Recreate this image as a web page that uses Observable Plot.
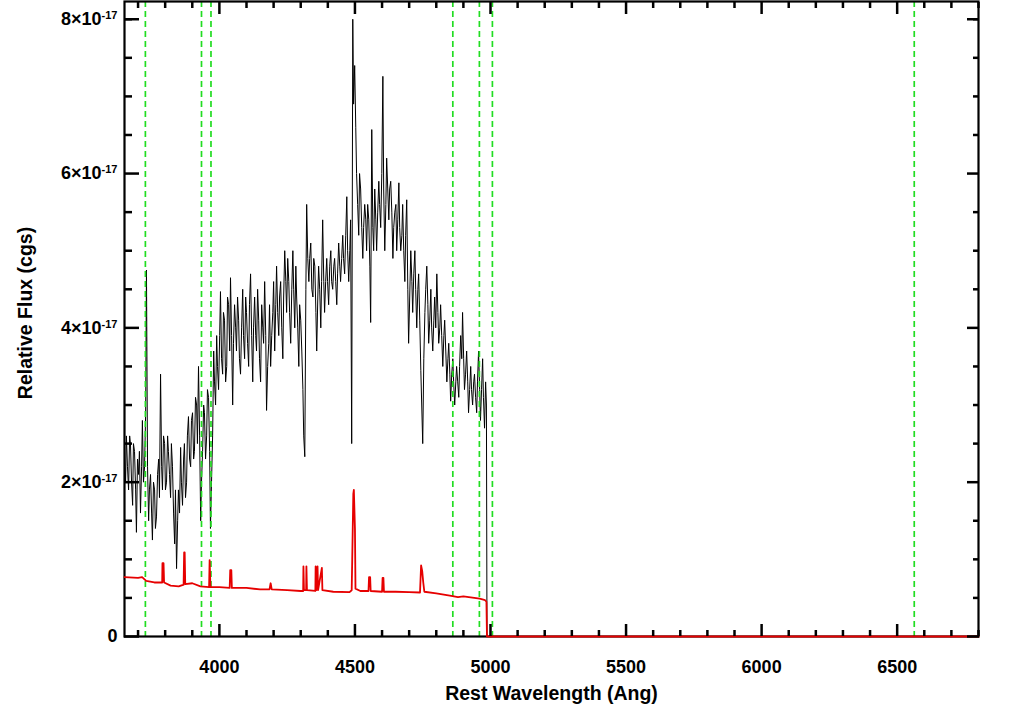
<!DOCTYPE html>
<html>
<head>
<meta charset="utf-8">
<script src="https://cdn.jsdelivr.net/npm/d3@7"></script>
<script src="https://cdn.jsdelivr.net/npm/@observablehq/plot@0.6"></script>
<style>
  html, body { margin: 0; padding: 0; background: #fff; }
  #chart svg { display: block; }
</style>
</head>
<body>
<div id="chart"></div>
<script>
// ---------- DATA (wavelength in Angstrom, flux in units of 1e-17 cgs) ----------
const spectrumPoints = [
[3650,2.3],[3654,2.0],[3657,2.6],[3661,2.2],[3665,1.9],[3669,2.6],[3672,2.5],[3676,2.0],[3680,1.7],[3683,2.5],
[3687,2.4],[3691,1.9],[3694,1.35],[3698,2.3],[3702,2.1],[3705,2.4],[3709,1.6],[3713,2.2],[3716,2.8],[3720,2.0],
[3724,2.2],[3728,2.9],[3731,4.75],[3735,2.2],[3739,1.5],[3742,1.9],[3746,2.1],[3750,1.6],[3753,1.25],[3757,2.0],
[3761,1.9],[3764,1.4],[3768,1.55],[3772,2.1],[3776,2.3],[3779,1.8],[3783,3.4],[3787,2.2],[3790,1.9],[3794,2.6],
[3798,2.5],[3801,1.9],[3805,2.0],[3809,2.6],[3812,2.4],[3816,2.1],[3820,1.8],[3823,2.5],[3827,2.2],[3831,1.6],
[3835,1.2],[3838,1.9],[3842,0.88],[3846,1.5],[3849,1.9],[3853,1.6],[3857,2.45],[3860,2.0],[3864,1.7],[3868,2.3],
[3871,2.5],[3875,1.8],[3879,2.0],[3882,2.6],[3886,2.85],[3890,2.3],[3894,2.2],[3897,2.8],[3901,2.9],[3905,2.3],
[3908,2.4],[3912,3.1],[3916,3.0],[3919,2.5],[3923,3.5],[3927,2.6],[3931,1.5],[3934,2.0],[3938,2.4],[3942,3.0],
[3945,2.9],[3949,2.3],[3953,2.6],[3956,3.2],[3960,3.1],[3964,2.4],[3967,1.4],[3971,2.0],[3975,2.6],[3979,3.7],
[3982,3.3],[3986,3.0],[3990,3.9],[3993,3.5],[3997,3.2],[4001,3.9],[4004,4.47],[4008,3.6],[4012,3.4],[4015,4.2],
[4019,4.1],[4023,3.3],[4027,3.5],[4030,4.4],[4034,4.3],[4038,3.7],[4041,4.65],[4045,3.9],[4049,3.0],[4052,3.8],
[4056,4.3],[4060,4.0],[4063,3.7],[4067,4.4],[4071,4.1],[4074,3.6],[4078,3.4],[4082,4.0],[4086,4.5],[4089,3.9],
[4093,3.6],[4097,4.4],[4100,4.2],[4104,3.8],[4108,3.5],[4111,4.3],[4115,4.7],[4119,3.9],[4123,3.3],[4126,4.0],
[4130,4.4],[4134,3.9],[4137,3.7],[4141,4.5],[4145,4.1],[4148,3.6],[4152,3.3],[4156,4.3],[4160,4.0],[4163,3.8],
[4167,4.6],[4171,3.9],[4174,2.93],[4178,3.5],[4182,3.8],[4185,4.3],[4189,3.5],[4193,3.9],[4197,4.2],[4200,4.6],
[4204,3.7],[4208,4.3],[4211,4.8],[4215,4.2],[4219,3.9],[4222,4.4],[4226,4.6],[4230,4.0],[4234,3.6],[4237,4.4],
[4241,5.0],[4245,4.6],[4248,4.2],[4252,4.9],[4256,4.6],[4259,4.2],[4263,3.8],[4267,4.5],[4271,5.0],[4274,4.5],
[4278,4.0],[4282,4.8],[4285,4.4],[4289,4.0],[4293,3.5],[4296,4.3],[4300,4.1],[4304,3.7],[4308,3.2],[4311,2.6],
[4315,2.33],[4319,4.5],[4322,5.6],[4326,4.9],[4330,4.6],[4333,4.9],[4337,5.1],[4341,4.5],[4345,4.4],[4348,4.9],
[4352,4.8],[4356,4.2],[4359,3.7],[4363,4.4],[4366,4.8],[4370,4.5],[4374,4.0],[4377,4.6],[4381,5.4],[4385,4.6],
[4388,4.2],[4392,4.6],[4396,4.9],[4399,4.6],[4403,4.3],[4407,4.8],[4411,5.0],[4414,4.6],[4418,4.5],[4422,4.8],
[4425,4.9],[4429,4.6],[4433,4.3],[4436,4.7],[4440,5.1],[4444,4.8],[4447,4.6],[4451,4.9],[4455,5.2],[4458,4.9],
[4462,4.7],[4466,5.2],[4470,5.7],[4473,5.0],[4477,4.6],[4481,5.0],[4484,5.4],[4488,2.5],[4492,8.0],[4495,6.9],
[4499,7.4],[4503,6.6],[4506,6.0],[4510,5.6],[4514,5.2],[4517,6.0],[4521,5.8],[4525,5.3],[4529,4.9],[4532,5.3],
[4536,5.6],[4540,5.4],[4543,5.0],[4547,5.6],[4551,5.4],[4555,4.8],[4558,4.07],[4562,6.57],[4566,5.3],[4569,5.0],
[4573,5.8],[4577,5.4],[4580,5.0],[4584,5.5],[4588,5.9],[4591,5.6],[4595,5.3],[4599,6.0],[4603,7.26],[4606,5.8],
[4610,5.0],[4614,5.6],[4617,6.2],[4621,5.8],[4625,5.4],[4628,5.8],[4632,5.9],[4636,5.5],[4640,4.9],[4643,5.3],
[4647,5.5],[4651,5.6],[4654,5.0],[4658,5.4],[4662,5.88],[4665,5.3],[4669,5.0],[4673,5.2],[4676,5.6],[4680,5.0],
[4684,4.6],[4687,5.2],[4691,5.66],[4695,4.5],[4698,3.8],[4702,4.4],[4706,5.0],[4710,4.6],[4713,4.2],[4717,4.7],
[4721,5.0],[4724,4.5],[4728,4.0],[4732,4.5],[4735,4.7],[4739,4.1],[4743,3.45],[4750,2.5],[4754,3.6],[4758,4.2],
[4761,4.5],[4765,4.8],[4769,4.3],[4772,3.8],[4776,4.1],[4780,4.5],[4783,4.0],[4787,3.7],[4791,4.1],[4794,4.4],
[4798,4.0],[4802,4.7],[4806,4.2],[4809,3.8],[4813,4.0],[4816,4.3],[4820,3.9],[4824,3.5],[4828,3.9],[4831,4.1],
[4835,3.7],[4839,3.3],[4843,3.6],[4846,3.8],[4850,3.4],[4853,3.05],[4857,3.4],[4861,3.6],[4864,3.3],[4868,3.0],
[4872,3.3],[4875,3.5],[4879,3.3],[4883,3.1],[4886,3.5],[4890,3.9],[4894,3.6],[4897,4.2],[4901,3.6],[4904,3.2],
[4908,3.4],[4912,3.7],[4916,3.3],[4919,2.9],[4923,3.2],[4927,3.5],[4930,3.2],[4934,3.0],[4938,3.3],[4941,3.4],
[4945,3.1],[4949,2.9],[4952,3.3],[4956,3.7],[4960,3.2],[4963,2.8],[4967,3.2],[4971,3.6],[4974,3.1],[4978,2.7],
[4982,3.3],[4985,3.0],[4987,0],[6800,0]
];

const errorPoints = [
[3650,0.77],[3700,0.76],[3715,0.77],[3730,0.72],[3760,0.70],[3789,0.70],[3790,0.95],[3794,0.95],[3796,0.70],
[3820,0.66],[3850,0.65],[3866,0.67],[3868,0.67],[3870,1.09],[3872,1.09],[3874,0.68],[3900,0.69],[3930,0.65],
[3962,0.64],[3964,0.99],[3967,0.64],[4000,0.64],[4038,0.63],[4040,0.86],[4044,0.86],[4046,0.63],[4100,0.63],
[4150,0.61],[4185,0.61],[4189,0.69],[4193,0.61],[4250,0.60],[4300,0.59],[4309,0.59],[4310,0.91],[4312,0.60],
[4320,0.60],[4321,0.91],[4323,0.60],[4354,0.59],[4355,0.91],[4357,0.60],[4362,0.91],[4364,0.60],[4378,0.89],
[4380,0.60],[4420,0.58],[4480,0.575],[4488,0.60],[4490,1.0],[4494,1.85],[4496,1.9],[4500,1.4],[4502,0.62],
[4520,0.59],[4550,0.59],[4552,0.77],[4556,0.77],[4558,0.59],[4600,0.58],[4602,0.76],[4605,0.76],[4607,0.58],
[4650,0.58],[4700,0.575],[4740,0.57],[4744,0.92],[4748,0.85],[4752,0.70],[4756,0.58],[4800,0.56],[4850,0.53],
[4880,0.51],[4900,0.52],[4920,0.51],[4960,0.49],[4980,0.47],[4985,0.45],[4987,0],[6800,0]
];

// Marked line positions (Angstrom): [OII], CaK, CaH, Hbeta, [OIII], [OIII], Halpha
const lineWaves = [3727, 3934, 3969, 4861, 4959, 5007, 6563];

const xMajorTicks = [4000, 4500, 5000, 5500, 6000, 6500];
const xMinorTicks = [3700, 3800, 3900, 4100, 4200, 4300, 4400, 4600, 4700, 4800, 4900, 5100, 5200, 5300, 5400, 5600, 5700, 5800, 5900, 6100, 6200, 6300, 6400, 6600, 6700, 6800];
const yMajorTicks = [0, 2, 4, 6, 8];
const yMinorTicks = [0.5, 1, 1.5, 2.5, 3, 3.5, 4.5, 5, 5.5, 6.5, 7, 7.5, 8];
const yExponent = "-17";
const xTitle = "Rest Wavelength (Ang)";
const yTitle = "Relative Flux (cgs)";

// ---------- BUILD ----------
const spectrum = spectrumPoints.map(([w, f]) => ({w, f}));
const errorSpec = errorPoints.map(([w, f]) => ({w, f}));

const tickStroke = 2.5;
const noText = () => "";

const chart = Plot.plot({
  width: 1020,
  height: 706,
  marginLeft: 124,
  marginRight: 42,
  marginTop: 1,
  marginBottom: 70,
  style: {
    fontFamily: "'Liberation Sans', Arial, Helvetica, sans-serif",
    fontSize: "18px",
    fontWeight: "bold",
    background: "white",
    color: "black",
    overflow: "visible"
  },
  x: {domain: [3650, 6800], label: null},
  y: {domain: [0, 8.23], label: null},
  marks: [
    Plot.line(spectrum, {x: "w", y: "f", stroke: "black", strokeWidth: 1, clip: true}),
    Plot.ruleX(lineWaves, {stroke: "#22dd22", strokeWidth: 1.7, strokeDasharray: "6,4"}),
    Plot.frame({stroke: "black", strokeWidth: 2.2}),
    Plot.line(errorSpec, {x: "w", y: "f", stroke: "#e60000", strokeWidth: 1.8}),

    // bottom axis
    Plot.axisX({anchor: "bottom", ticks: xMajorTicks, tickSize: -12, tickFormat: noText, strokeWidth: tickStroke, label: null}),
    Plot.axisX({anchor: "bottom", ticks: xMinorTicks, tickSize: -6, tickFormat: noText, strokeWidth: tickStroke, label: null}),
    Plot.axisX({anchor: "bottom", ticks: xMajorTicks, tickSize: 0, tickPadding: 24, tickFormat: d => String(d), label: null}),
    // top axis
    Plot.axisX({anchor: "top", ticks: xMajorTicks, tickSize: -12, tickFormat: noText, strokeWidth: tickStroke, label: null}),
    Plot.axisX({anchor: "top", ticks: xMinorTicks, tickSize: -6, tickFormat: noText, strokeWidth: tickStroke, label: null}),
    // left axis
    Plot.axisY({anchor: "left", ticks: yMajorTicks, tickSize: -15, tickFormat: noText, strokeWidth: tickStroke, label: null}),
    Plot.axisY({anchor: "left", ticks: yMinorTicks, tickSize: -8, tickFormat: noText, strokeWidth: tickStroke, label: null}),
    Plot.axisY({anchor: "left", ticks: yMajorTicks, tickSize: 0, tickPadding: 7, tickFormat: d => d === 0 ? "0" : `${d}×10`, label: null}),
    // right axis
    Plot.axisY({anchor: "right", ticks: yMajorTicks, tickSize: -12, tickFormat: noText, strokeWidth: tickStroke, label: null}),
    Plot.axisY({anchor: "right", ticks: yMinorTicks, tickSize: -6, tickFormat: noText, strokeWidth: tickStroke, label: null}),

    // titles
    Plot.text([xTitle], {frameAnchor: "bottom", dy: 57, text: d => d, fontSize: 19.5, fontWeight: "bold", fill: "black", textAnchor: "middle", lineAnchor: "middle"}),
    Plot.text([yTitle], {frameAnchor: "left", dx: -99, dy: -6, rotate: -90, text: d => d, fontSize: 19.5, fontWeight: "bold", fill: "black", textAnchor: "middle", lineAnchor: "middle"})
  ]
});

// superscript exponents on y tick labels
d3.select(chart).selectAll('g[aria-label="y-axis tick label"] text').each(function() {
  const t = d3.select(this);
  const s = t.text();
  if (s && s !== "0") {
    t.append("tspan").attr("dy", "-0.55em").attr("font-size", "11px").text(yExponent);
  }
});

document.getElementById("chart").appendChild(chart);
</script>
</body>
</html>
